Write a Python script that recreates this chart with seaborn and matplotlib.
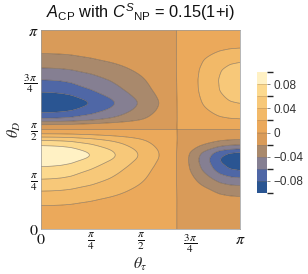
import numpy as np
import matplotlib
matplotlib.use("Agg")
import matplotlib.pyplot as plt
from matplotlib.colors import ListedColormap, BoundaryNorm
import seaborn as sns

# theta_tau positions (fractions of pi) and lobe weights
tau_pts = [0, 0.05, 0.1, 0.15, 0.2, 0.25, 0.3, 0.35, 0.4, 0.45, 0.5, 0.55, 0.6, 0.65,
           0.682, 0.72, 0.76, 0.8, 0.85, 0.9, 0.95, 1.0]
w_left = [1.0, 0.99, 0.97, 0.93, 0.86, 0.80, 0.72, 0.645, 0.56, 0.47, 0.38, 0.28, 0.19, 0.08,
          0, 0, 0, 0, 0, 0, 0, 0]
w_right = [0, 0, 0, 0, 0, 0, 0, 0, 0, 0, 0, 0, 0, 0,
           0, 0.13, 0.29, 0.455, 0.65, 0.85, 0.96, 1.0]

# theta_D positions (fractions of pi), A_CP along theta_D at theta_tau = 0 and at theta_tau = pi
thd_pts = [0, 0.05, 0.1, 0.15, 0.2, 0.25, 0.3, 0.34, 0.355, 0.37, 0.385, 0.4, 0.43, 0.45, 0.47,
           0.485, 0.5, 0.515, 0.53, 0.55, 0.57, 0.6, 0.615, 0.63, 0.645, 0.66, 0.7, 0.75, 0.8,
           0.85, 0.9, 0.95, 1.0]
acp_left = [0, 0.008, 0.016, 0.0275, 0.043, 0.06, 0.075, 0.09, 0.097, 0.1, 0.098, 0.092,
            0.073, 0.056, 0.029, 0.0125, 0, -0.012, -0.024, -0.056, -0.071, -0.089, -0.095,
            -0.099, -0.097, -0.091, -0.075, -0.06, -0.043, -0.027, -0.016, -0.008, 0]
acp_right = [0, -0.005, -0.01, -0.016, -0.031, -0.056, -0.083, -0.094, -0.094, -0.089, -0.082,
             -0.062, -0.033, -0.019, -0.011, -0.0055, 0, 0.0055, 0.011, 0.019, 0.025, 0.033,
             0.037, 0.04, 0.042, 0.044, 0.048, 0.049, 0.046, 0.038, 0.022, 0.011, 0]

levels = [-0.1, -0.08, -0.06, -0.04, -0.02, 0, 0.02, 0.04, 0.06, 0.08, 0.1]
band_colors = ["#2a5592", "#4f67a6", "#857f92", "#a9896c", "#d99b59",
               "#eba95b", "#f2b968", "#f7c879", "#fcd98e", "#fff1c4"]
cbar_ticks = [-0.08, -0.04, 0, 0.04, 0.08]
cbar_labels = ["\u22120.08", "\u22120.04", "0", "0.04", "0.08"]
tick_pos = [0, 0.25, 0.5, 0.75, 1.0]
x_tick_labels = [r"$0$", r"$\frac{\pi}{4}$", r"$\frac{\pi}{2}$", r"$\frac{3\,\pi}{4}$", r"$\pi$"]
y_tick_labels = [r"$0$", r"$\frac{\pi}{4}$", r"$\frac{\pi}{2}$", r"$\frac{3\,\pi}{4}$", r"$\pi$"]

sns.set_theme(style="white")
plt.rcParams["font.family"] = ["Liberation Sans", "DejaVu Sans"]
plt.rcParams["mathtext.fontset"] = "custom"
plt.rcParams["mathtext.rm"] = "Liberation Sans"
plt.rcParams["mathtext.it"] = "Liberation Sans:italic"


def smooth(v, s=3):
    k = np.exp(-0.5 * (np.arange(-3 * s, 3 * s + 1) / s) ** 2)
    k /= k.sum()
    vp = np.pad(v, 3 * s, mode="edge")
    return np.convolve(vp, k, mode="valid")


tau = np.linspace(0, 1, 401)
thd = np.linspace(0, 1, 401)
wl = smooth(np.interp(tau, tau_pts, w_left))
wr = smooth(np.interp(tau, tau_pts, w_right))
gl = smooth(np.interp(thd, thd_pts, acp_left))
gr = smooth(np.interp(thd, thd_pts, acp_right))
Z = np.clip(np.outer(gl, wl) + np.outer(gr, wr), -0.0999, 0.0999)
X, Y = np.meshgrid(tau * np.pi, thd * np.pi)

fig = plt.figure(figsize=(3.08, 2.74), dpi=100)
ax = fig.add_axes([41 / 308, 45 / 274, 199 / 308, 199 / 274])

cmap = ListedColormap(band_colors)
norm = BoundaryNorm(levels, cmap.N)
cs = ax.contourf(X, Y, Z, levels=levels, cmap=cmap, norm=norm, antialiased=True)
ax.contour(X, Y, Z, levels=levels[1:-1], colors="#5a4a3a", linewidths=0.5, alpha=0.6,
           linestyles="solid")

ax.set_xlim(0, np.pi)
ax.set_ylim(0, np.pi)
ax.set_xticks(np.array(tick_pos) * np.pi)
ax.set_yticks(np.array(tick_pos) * np.pi)
ax.set_xticklabels(x_tick_labels, math_fontfamily="stix", fontsize=11.5)
ax.set_yticklabels(y_tick_labels, math_fontfamily="stix", fontsize=11.5)
ax.tick_params(direction="in", length=3, width=0.5, color="#777777", pad=2, labelcolor="#111111")
for sp in ax.spines.values():
    sp.set_color("#999999")
    sp.set_linewidth(0.5)

ax.set_xlabel(r"$\theta_{\tau}$", math_fontfamily="stix", fontsize=11.5, labelpad=1)
ax.set_ylabel(r"$\theta_{D}$", math_fontfamily="stix", fontsize=11.5, labelpad=0)

fig.text(140.5 / 308, 1 - 18 / 274, r"$A_{\mathrm{CP}}$ with $C^{S}{}_{\mathrm{NP}}$ = 0.15(1+i)",
         ha="center", va="baseline", fontsize=11.8, color="#111111")

cax = fig.add_axes([257 / 308, 81 / 274, 10 / 308, 121 / 274])
cb = fig.colorbar(cs, cax=cax, ticks=cbar_ticks, drawedges=True)
cb.ax.set_yticklabels(cbar_labels)
cb.ax.tick_params(length=2, width=0.5, color="#555555", labelsize=8.5, labelcolor="#333333", pad=3)
cb.outline.set_visible(False)
cb.dividers.set_color("#8a7050")
cb.dividers.set_linewidth(0.4)
cb.dividers.set_alpha(0.5)

fig.savefig("out.png", dpi=100)
